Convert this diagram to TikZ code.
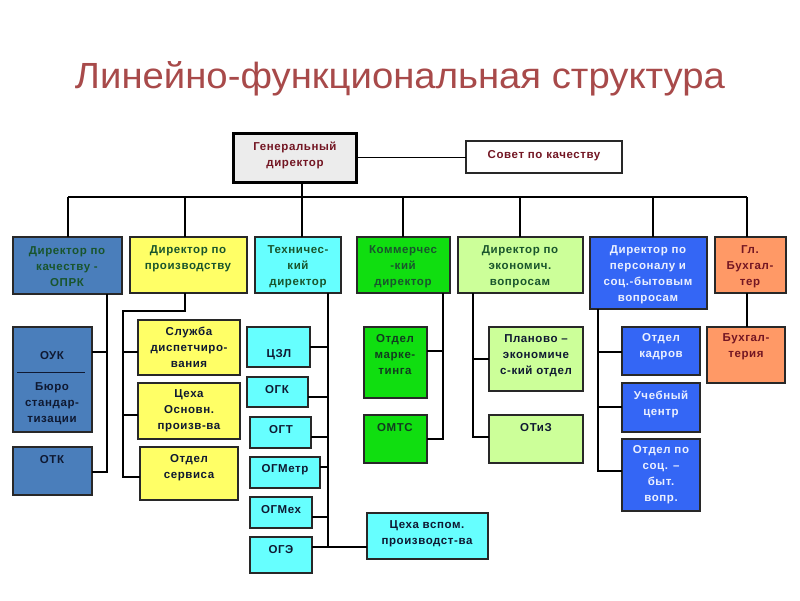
\documentclass[tikz,border=0pt]{standalone}
\usepackage{fontspec}
\setmainfont{Liberation Sans}
\newfontfamily\boxfont[LetterSpace=5]{Liberation Sans}
\definecolor{titlec}{RGB}{168,74,74}
\definecolor{steel}{RGB}{74,126,187}
\definecolor{yel}{RGB}{255,255,102}
\definecolor{cya}{RGB}{102,255,255}
\definecolor{grn}{RGB}{16,222,16}
\definecolor{lgrn}{RGB}{204,255,153}
\definecolor{blu}{RGB}{52,102,245}
\definecolor{ora}{RGB}{255,153,102}
\definecolor{gdfill}{RGB}{236,236,236}
\definecolor{dtext}{RGB}{25,85,45}
\definecolor{ntext}{RGB}{15,25,50}
\definecolor{rtext}{RGB}{115,22,35}
\definecolor{wtext}{RGB}{235,240,255}
\definecolor{edge}{RGB}{40,40,40}
\newcommand\bx[6]{\node[boxst,#6,minimum width={#4pt-#2pt},minimum height={#5pt-#3pt}] (#1) at ({(#2+#4)/2},{(#3+#5)/2}) {};}
\begin{document}
\begin{tikzpicture}[x=1pt,y=-1pt,
  boxst/.style={draw=edge,line width=1.2pt,inner sep=0pt,outer sep=0pt},
  txt/.style={align=center,inner sep=0pt,font=\boxfont\bfseries\fontsize{11.5}{16}\selectfont},
  conn/.style={line width=1.1pt,black}]
\useasboundingbox (0,0) rectangle (800,600);
\fill[white] (0,0) rectangle (800,600);
% title
\node[anchor=base,inner sep=0pt,text=titlec] (title) at (400,88) {\resizebox{650pt}{27pt}{\fontsize{35}{40}\selectfont Линейно-функциональная структура}};
% top
\bx{gd}{233}{133}{356}{182}{fill=gdfill,line width=3pt,draw=black}
\node[txt,text=rtext] (tgd) at (295,155) {Генеральный\\директор};
\bx{sv}{466}{141}{622}{173}{fill=white}
\node[txt,text=rtext] (tsv) at (544,156) {Совет по качеству};
% directors
\bx{d1}{13}{237}{122}{294}{fill=steel}
\node[txt,text=dtext] (td1) at (67,267) {Директор по\\качеству -\\ОПРК};
\bx{d2}{130}{237}{247}{293}{fill=yel}
\node[txt,text=dtext] (td2) at (188,259) {Директор по\\производству};
\bx{d3}{255}{237}{341}{293}{fill=cya}
\node[txt,text=dtext] (td3) at (298,267) {Техничес-\\кий\\директор};
\bx{d4}{357}{237}{450}{293}{fill=grn}
\node[txt,text=dtext] (td4) at (403,267) {Коммерчес\\-кий\\директор};
\bx{d5}{458}{237}{583}{293}{fill=lgrn}
\node[txt,text=dtext] (td5) at (520,267) {Директор по\\экономич.\\вопросам};
\bx{d6}{590}{237}{707}{309}{fill=blu}
\node[txt,text=wtext] (td6) at (648,275) {Директор по\\персоналу и\\соц.-бытовым\\вопросам};
\bx{d7}{715}{237}{786}{293}{fill=ora}
\node[txt,text=rtext] (td7) at (750,267) {Гл.\\Бухгал-\\тер};
% column 1
\bx{ouk}{13}{327}{92}{432}{fill=steel}
\node[txt,text=ntext] (touk) at (52,356) {ОУК};
\coordinate (dv1) at (17,372); \coordinate (dv2) at (85,372);
\draw[line width=1pt,ntext] (dv1) -- (dv2);
\node[txt,text=ntext] (tbur) at (52,404) {Бюро\\стандар-\\тизации};
\bx{otk}{13}{447}{92}{495}{fill=steel}
\node[txt,text=ntext] (totk) at (52,460) {ОТК};
% column 2
\bx{sd}{138}{320}{240}{375}{fill=yel}
\node[txt,text=ntext] (tsd) at (189,347) {Служба\\диспетчиро-\\вания};
\bx{ceh}{138}{383}{240}{439}{fill=yel}
\node[txt,text=ntext] (tceh) at (189,411) {Цеха\\Основн.\\произв-ва};
\bx{serv}{140}{447}{238}{500}{fill=yel}
\node[txt,text=ntext] (tserv) at (189,468) {Отдел\\сервиса};
% column 3
\bx{czl}{247}{327}{310}{367}{fill=cya}
\node[txt,text=ntext] (tczl) at (279,355) {ЦЗЛ};
\bx{ogk}{247}{377}{308}{407}{fill=cya}
\node[txt,text=ntext] (togk) at (277,390) {ОГК};
\bx{ogt}{250}{417}{311}{448}{fill=cya}
\node[txt,text=ntext] (togt) at (281,430) {ОГТ};
\bx{ogmetr}{250}{457}{320}{488}{fill=cya}
\node[txt,text=ntext] (togmetr) at (285,470) {ОГМетр};
\bx{ogmeh}{250}{497}{312}{528}{fill=cya}
\node[txt,text=ntext] (togmeh) at (281,510) {ОГМех};
\bx{oge}{250}{537}{312}{573}{fill=cya}
\node[txt,text=ntext] (toge) at (281,550) {ОГЭ};
\bx{cv}{367}{513}{488}{559}{fill=cya}
\node[txt,text=ntext] (tcv) at (427,534) {Цеха вспом.\\производст-ва};
% column 4
\bx{mk}{364}{327}{427}{398}{fill=grn}
\node[txt,text=dtext!70!black] (tmk) at (395,355) {Отдел\\марке-\\тинга};
\bx{omts}{364}{415}{427}{463}{fill=grn}
\node[txt,text=dtext!70!black] (tomts) at (395,428) {ОМТС};
% column 5
\bx{pe}{489}{327}{583}{391}{fill=lgrn}
\node[txt,text=ntext] (tpe) at (536,356) {Планово –\\экономиче\\с-кий отдел};
\bx{otiz}{489}{415}{583}{463}{fill=lgrn}
\node[txt,text=ntext] (totiz) at (536,428) {ОТиЗ};
% column 6
\bx{kad}{622}{327}{700}{375}{fill=blu}
\node[txt,text=wtext] (tkad) at (661,347) {Отдел\\кадров};
\bx{uc}{622}{383}{700}{432}{fill=blu}
\node[txt,text=wtext] (tuc) at (661,404) {Учебный\\центр};
\bx{soc}{622}{439}{700}{511}{fill=blu}
\node[txt,text=wtext] (tsoc) at (661,475) {Отдел по\\соц. –\\быт.\\вопр.};
% column 7
\bx{buh}{707}{327}{785}{383}{fill=ora}
\node[txt,text=rtext] (tbuh) at (746,347) {Бухгал-\\терия};
% ---------------- connectors
\coordinate (b1) at (68,197);
\coordinate (b2) at (185,197);
\coordinate (b3) at (302,197);
\coordinate (b4) at (403,197);
\coordinate (b5) at (520,197);
\coordinate (b6) at (653,197);
\coordinate (b7) at (747,197);
\draw[conn] (gd.east) -- (gd.east -| sv.west);
\draw[conn] (gd.south -| b3) -- (b3);
\draw[conn] (b1) -- (b7);
\foreach \i in {1,...,7} {\draw[conn] (d\i.north -| b\i) -- (b\i);}
% col 1
\coordinate (c1a) at (107,352);
\coordinate (c1b) at (107,472);
\draw[conn] (d1.south -| c1b) -- (c1b) -- (otk.east |- c1b);
\draw[conn] (c1a) -- (ouk.east |- c1a);
% col 2
\coordinate (c2a) at (185,311);
\coordinate (c2b) at (123,311);
\coordinate (c2c) at (123,477);
\coordinate (c2d) at (123,352);
\coordinate (c2e) at (123,415);
\draw[conn] (d2.south -| c2a) -- (c2a) -- (c2b) -- (c2c) -- (serv.west |- c2c);
\draw[conn] (c2d) -- (sd.west |- c2d);
\draw[conn] (c2e) -- (ceh.west |- c2e);
% col 3
\coordinate (c3a) at (328,347);
\coordinate (c3b) at (328,397);
\coordinate (c3c) at (328,437);
\coordinate (c3d) at (328,467);
\coordinate (c3e) at (328,517);
\coordinate (c3f) at (328,547);
\draw[conn] (d3.south -| c3f) -- (c3f);
\draw[conn] (czl.east |- c3a) -- (c3a);
\draw[conn] (ogk.east |- c3b) -- (c3b);
\draw[conn] (ogt.east |- c3c) -- (c3c);
\draw[conn] (ogmetr.east |- c3d) -- (c3d);
\draw[conn] (ogmeh.east |- c3e) -- (c3e);
\draw[conn] (oge.east |- c3f) -- (cv.west |- c3f);
% col 4
\coordinate (c4a) at (443,351);
\coordinate (c4b) at (443,439);
\draw[conn] (d4.south -| c4b) -- (c4b) -- (omts.east |- c4b);
\draw[conn] (c4a) -- (mk.east |- c4a);
% col 5
\coordinate (c5a) at (473,359);
\coordinate (c5b) at (473,437);
\draw[conn] (d5.south -| c5b) -- (c5b) -- (otiz.west |- c5b);
\draw[conn] (c5a) -- (pe.west |- c5a);
% col 6
\coordinate (c6a) at (598,352);
\coordinate (c6b) at (598,407);
\coordinate (c6c) at (598,471);
\draw[conn] (d6.south -| c6c) -- (c6c) -- (soc.west |- c6c);
\draw[conn] (c6a) -- (kad.west |- c6a);
\draw[conn] (c6b) -- (uc.west |- c6b);
% col 7
\coordinate (c7) at (747,327);
\draw[conn] (d7.south -| c7) -- (buh.north -| c7);
\end{tikzpicture}
\end{document}
